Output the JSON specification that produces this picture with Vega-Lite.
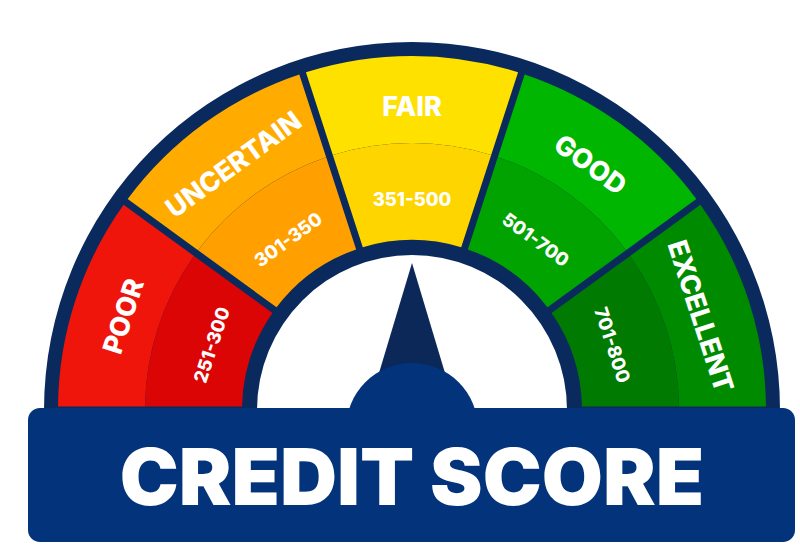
{
  "$schema": "https://vega.github.io/schema/vega-lite/v6.json",
  "width": 800,
  "height": 560,
  "autosize": {"type": "none"},
  "padding": 0,
  "background": "white",
  "config": {"view": {"stroke": null}},
  "datasets": {
    "segments": [
      {"segment": "POOR", "range": "251-300", "start": 0, "end": 1, "mid": 0.5},
      {"segment": "UNCERTAIN", "range": "301-350", "start": 1, "end": 2, "mid": 1.5},
      {"segment": "FAIR", "range": "351-500", "start": 2, "end": 3, "mid": 2.5},
      {"segment": "GOOD", "range": "501-700", "start": 3, "end": 4, "mid": 3.5},
      {"segment": "EXCELLENT", "range": "701-800", "start": 4, "end": 5, "mid": 4.5}
    ],
    "single": [{"title": "CREDIT SCORE"}]
  },
  "encoding": {
    "x": {"datum": 0, "type": "quantitative", "scale": {"domain": [-412, 388], "nice": false, "zero": false}, "axis": null},
    "y": {"datum": 0, "type": "quantitative", "scale": {"domain": [-150, 410], "nice": false, "zero": false}, "axis": null}
  },
  "layer": [
    {
      "data": {"name": "single"},
      "mark": {"type": "arc", "innerRadius": 155, "outerRadius": 368, "color": "#0a2a5e"},
      "encoding": {
        "theta": {"datum": 0, "type": "quantitative", "scale": {"domain": [0, 5], "range": [-1.5708, 1.5708]}},
        "theta2": {"datum": 5}
      }
    },
    {
      "data": {"name": "segments"},
      "mark": {"type": "arc", "innerRadius": 267, "outerRadius": 354, "padAngle": 0.0158},
      "encoding": {
        "theta": {"field": "start", "type": "quantitative", "stack": null},
        "theta2": {"field": "end"},
        "color": {"field": "segment", "type": "nominal", "legend": null,
          "scale": {"domain": ["POOR", "UNCERTAIN", "FAIR", "GOOD", "EXCELLENT"], "range": ["#ef150b", "#ffab00", "#ffe100", "#00b600", "#008a00"]}}
      }
    },
    {
      "data": {"name": "segments"},
      "mark": {"type": "arc", "innerRadius": 170, "outerRadius": 267, "padAngle": 0.0221},
      "encoding": {
        "theta": {"field": "start", "type": "quantitative", "stack": null},
        "theta2": {"field": "end"},
        "fill": {"field": "segment", "type": "nominal", "legend": null,
          "scale": {"domain": ["POOR", "UNCERTAIN", "FAIR", "GOOD", "EXCELLENT"], "range": ["#dc0505", "#ff9f00", "#ffd500", "#00a300", "#007a00"]}}
      }
    },
    {
      "data": {"name": "segments"},
      "mark": {"type": "text", "radius": 302, "font": "Inter", "fontWeight": 800, "fontSize": 27, "color": "white", "baseline": "middle", "align": "center"},
      "encoding": {
        "theta": {"field": "mid", "type": "quantitative", "stack": null},
        "angle": {"field": "mid", "type": "quantitative", "scale": {"domain": [0, 5], "range": [-90, 90]}},
        "text": {"field": "segment"}
      }
    },
    {
      "data": {"name": "segments"},
      "mark": {"type": "text", "radius": 210, "font": "Inter", "fontWeight": 800, "fontSize": 18.5, "color": "white", "baseline": "middle", "align": "center"},
      "encoding": {
        "theta": {"field": "mid", "type": "quantitative", "stack": null},
        "angle": {"field": "mid", "type": "quantitative"},
        "text": {"field": "range"}
      }
    },
    {
      "data": {"name": "single"},
      "mark": {"type": "point", "shape": "M0,-1L0.6,1L-0.6,1Z", "size": 21609, "filled": true, "color": "#0b2859", "opacity": 1, "strokeWidth": 0},
      "encoding": {"y": {"datum": 73.5, "type": "quantitative"}}
    },
    {
      "data": {"name": "single"},
      "mark": {"type": "point", "shape": "circle", "size": 17424, "filled": true, "color": "#03337a", "opacity": 1, "strokeWidth": 0},
      "encoding": {"y": {"datum": -19, "type": "quantitative"}}
    },
    {
      "data": {"name": "single"},
      "mark": {"type": "rect", "cornerRadius": 12, "color": "#03337a"},
      "encoding": {
        "x": {"datum": -384, "type": "quantitative"},
        "x2": {"datum": 383},
        "y": {"datum": 2, "type": "quantitative"},
        "y2": {"datum": -132}
      }
    },
    {
      "data": {"name": "single"},
      "mark": {"type": "text", "font": "Inter", "fontWeight": 900, "fontSize": 79, "color": "white", "baseline": "alphabetic", "align": "center"},
      "encoding": {
        "y": {"datum": -95, "type": "quantitative"},
        "text": {"field": "title"}
      }
    }
  ],
  "resolve": {"scale": {"color": "independent", "fill": "independent"}}
}
